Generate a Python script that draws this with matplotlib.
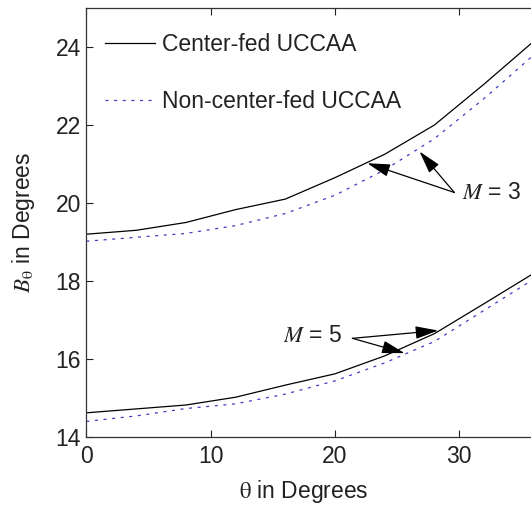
import matplotlib
matplotlib.use("Agg")
import matplotlib.pyplot as plt

plt.rcParams['font.family'] = ['Liberation Sans', 'DejaVu Sans']
plt.rcParams['mathtext.fontset'] = 'stix'

theta = [0, 4, 8, 12, 16, 20, 24, 28, 32, 36]
center_m3 = [19.2, 19.3, 19.5, 19.83, 20.1, 20.65, 21.25, 22.0, 23.05, 24.15]
noncenter_m3 = [19.02, 19.12, 19.22, 19.42, 19.73, 20.2, 20.85, 21.65, 22.68, 23.8]
center_m5 = [14.62, 14.72, 14.82, 15.02, 15.33, 15.62, 16.08, 16.65, 17.42, 18.2]
noncenter_m5 = [14.4, 14.54, 14.73, 14.85, 15.1, 15.44, 15.9, 16.45, 17.25, 18.05]

xticks = [0, 10, 20, 30]
yticks = [14, 16, 18, 20, 22, 24]

FS = 16.5
W, H = 531, 508
fig = plt.figure(figsize=(W / 100, H / 100), dpi=100)
ax = fig.add_axes([86.4 / W, 1 - 437 / H, 40 * 12.43 / W, (437 - 8) / H])

blue = '#3c3cc0'
l1, = ax.plot(theta, center_m3, color='black', lw=0.9, label='Center-fed UCCAA')
l2, = ax.plot(theta, noncenter_m3, color=blue, lw=0.9, ls=(0, (2.4, 4.5)),
              label='Non-center-fed UCCAA')
ax.plot(theta, center_m5, color='black', lw=0.9)
ax.plot(theta, noncenter_m5, color=blue, lw=0.9, ls=(0, (2.4, 4.5)))

ax.set_xlim(0, 40)
ax.set_ylim(14, 25)
ax.set_xticks(xticks)
ax.set_yticks(yticks)
ax.tick_params(direction='in', length=5, width=0.8, top=True, right=True,
               labelsize=FS, colors='#222222')
ax.tick_params(axis='y', pad=4)
ax.tick_params(axis='x', pad=6)
for s in ax.spines.values():
    s.set_linewidth(0.9)
    s.set_color('#333333')

ax.set_xlabel(r'$\mathrm{\theta}$ in Degrees', fontsize=FS, color='#222222')
ax.xaxis.set_label_coords(17.5 / 40, -0.095)
ax.set_ylabel(r'$B_{\mathrm{\theta}}$ in Degrees', fontsize=FS, color='#222222')
ax.yaxis.set_label_coords(-0.1, 0.5)

leg = fig.legend(handles=[l1, l2], loc='upper left',
                 bbox_to_anchor=(105 / W, 1 - 33 / H), frameon=False,
                 fontsize=FS, handlelength=2.2, handletextpad=0.27,
                 labelspacing=1.5, borderpad=0, borderaxespad=0)
for t in leg.get_texts():
    t.set_color('#222222')

arrow = dict(arrowstyle='-|>,head_length=1.0,head_width=0.28', color='black',
             lw=0.9, shrinkA=0, shrinkB=0, mutation_scale=14)
ax.annotate('', xy=(22.6, 21.02), xytext=(29.6, 20.27), arrowprops=arrow)
ax.annotate('', xy=(26.8, 21.32), xytext=(29.6, 20.27), arrowprops=arrow)
ax.text(30.2, 20.27, r'$M$ = 3', fontsize=FS, ha='left', va='center', color='#222222')

ax.annotate('', xy=(28.3, 16.73), xytext=(21.4, 16.53), arrowprops=arrow)
ax.annotate('', xy=(25.6, 16.15), xytext=(21.4, 16.53), arrowprops=arrow)
ax.text(20.6, 16.6, r'$M$ = 5', fontsize=FS, ha='right', va='center', color='#222222')

fig.savefig('out.png', dpi=100)
